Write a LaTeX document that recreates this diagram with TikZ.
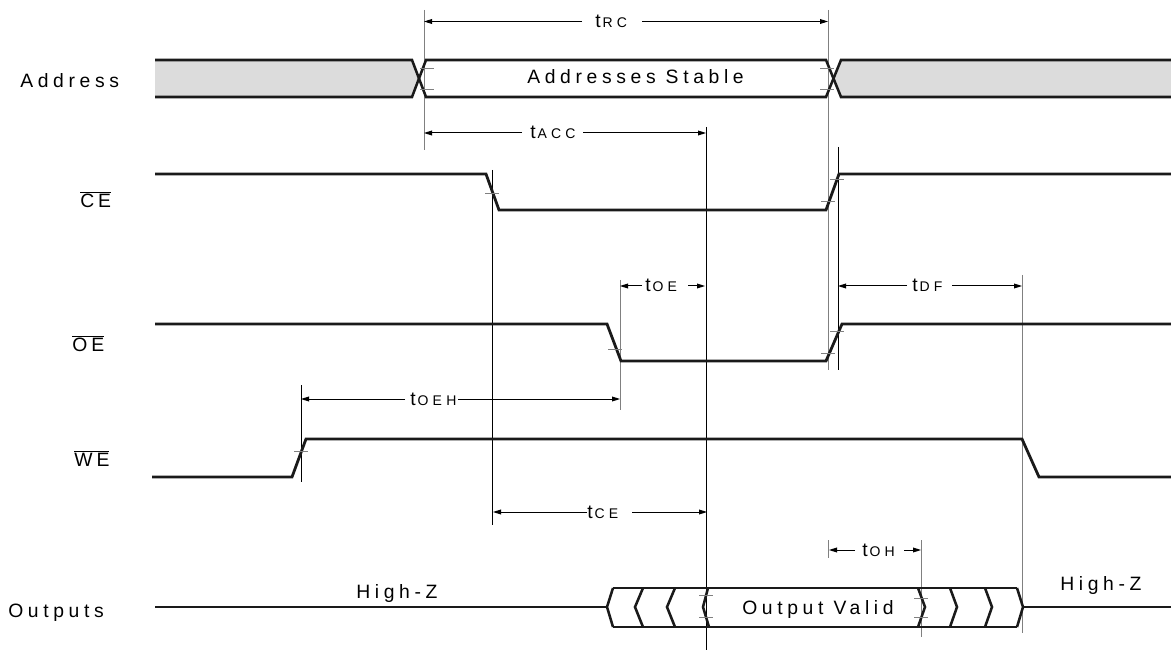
\documentclass[tikz,border=0pt]{standalone}
\usepackage{fontspec}
\setmainfont{Liberation Sans}
\newfontfamily\spaced[LetterSpace=24]{Liberation Sans}
\newfontfamily\subsp[LetterSpace=30]{Liberation Sans}
\usetikzlibrary{arrows.meta}
\definecolor{busgray}{HTML}{DCDCDC}
\definecolor{sigcol}{HTML}{1A1A1A}
\definecolor{refgray}{HTML}{808080}
\newcommand\tlab[1]{{\fontsize{14.5}{16}\selectfont t}\kern1.5pt{\subsp\fontsize{10.5}{12}\selectfont #1}}
\newcommand\bigtxt{\spaced\fontsize{14.5}{16}\selectfont}
\tikzset{
  sig/.style={line width=2.1pt, draw=sigcol, line join=miter},
  bus/.style={line width=1.9pt, draw=sigcol, line join=miter},
  refl/.style={line width=0.75pt, draw=black},
  refg/.style={line width=0.75pt, draw=refgray},
  tickm/.style={line width=0.6pt, draw=refgray},
  dim/.style={line width=0.75pt, draw=black, -{Triangle[length=6pt,width=3.6pt]}},
  lbl/.style={inner sep=0pt, anchor=base west},
}
\begin{document}
\begin{tikzpicture}[x=0.75pt,y=-0.75pt]
\useasboundingbox (0,0) rectangle (1171,652);
% reference verticals
\draw[refg] (424,10) -- (424,150);
\draw[refg] (828,10) -- (828,370);
\draw[refl] (838,147) -- (838,370);
\draw[refl] (492,170) -- (492,525);
\draw[refl] (706,127) -- (706,650);
\draw[refg] (620,280) -- (620,410);
\draw[refl] (301,385) -- (301,482);
\draw[refg] (1022,275) -- (1022,633);
\draw[refg] (828,540) -- (828,558);
\draw[refg] (921,540) -- (921,637);

% Address bus
\fill[busgray] (155,60) -- (412,60) -- (419,78.5) -- (412,97) -- (155,97) -- cycle;
\fill[busgray] (1171,60) -- (841,60) -- (833.5,78.5) -- (841,97) -- (1171,97) -- cycle;
\draw[bus] (155,60) -- (412,60) -- (426,97) -- (826,97) -- (841,60) -- (1171,60);
\draw[bus] (155,97) -- (412,97) -- (426,60) -- (826,60) -- (841,97) -- (1171,97);

% CE
\draw[sig] (155,174) -- (486,174) -- (499,210) -- (826,210) -- (839,174) -- (1171,174);
% OE
\draw[sig] (155,324) -- (607,324) -- (621,361) -- (826,361) -- (842,324) -- (1171,324);
% WE
\draw[sig] (152,477) -- (292,477) -- (306,439) -- (1022,439) -- (1039,477) -- (1171,477);

% Outputs
\draw[bus] (155,607) -- (607,607);
\draw[bus] (1023,607) -- (1171,607);
\draw[bus] (613,588) -- (1017,588);
\draw[bus] (613,627) -- (1017,627);
\draw[bus] (613,588) -- (607,607) -- (613,627);
\draw[bus] (643,588) -- (635,607) -- (643,627);
\draw[bus] (675,588) -- (667,607) -- (675,627);
\draw[bus] (708,588) -- (703,607) -- (709,627);
\draw[bus] (918,588) -- (925,607) -- (918,627);
\draw[bus] (950,588) -- (957,607) -- (950,627);
\draw[bus] (985,588) -- (992,607) -- (985,627);
\draw[bus] (1017,588) -- (1023,607) -- (1017,627);

% ticks
\foreach \x/\y in {427/68, 427/89, 827/68, 827/89, 492/193, 837/179, 828/201,
  615/349, 837/331, 828/353, 301/451, 706/595, 706/617, 921/598, 921/617}
  \draw[tickm] ({\x-7},\y) -- ({\x+7},\y);

% timing arrows
\draw[dim] (582,21.5) -- (424,21.5);
\draw[dim] (642,21.5) -- (828,21.5);
\draw[dim] (522,133) -- (424,133);
\draw[dim] (583,133) -- (706,133);
\draw[dim] (642,286) -- (620,286);
\draw[dim] (688,286) -- (705,286);
\draw[dim] (907,286) -- (838,286);
\draw[dim] (952,286) -- (1022,286);
\draw[dim] (405,399) -- (301,399);
\draw[dim] (458,399) -- (620,399);
\draw[dim] (587,512) -- (493,512);
\draw[dim] (632,512) -- (707,512);
\draw[dim] (855,550) -- (829,550);
\draw[dim] (904,550) -- (921,550);

% timing labels
\node[lbl] (trc) at (595,27.5) {\tlab{RC}};
\node[lbl] (tacc) at (530,139) {\tlab{ACC}};
\node[lbl] (toe) at (645,292) {\tlab{OE}};
\node[lbl] (tdf) at (912,292) {\tlab{DF}};
\node[lbl] (toeh) at (410,405) {\tlab{OEH}};
\node[lbl] (tce) at (587,518) {\tlab{CE}};
\node[lbl] (toh) at (862,556) {\tlab{OH}};

% signal names
\node[lbl] (naddr) at (20,88) {\bigtxt Address};
\node[lbl] (nce) at (80,208) {\bigtxt $\overline{\mbox{C\kern3pt E}}$};
\node[lbl] (noe) at (72,352) {\bigtxt $\overline{\mbox{O\kern3pt E}}$};
\node[lbl] (nwe) at (74,466) {\bigtxt $\overline{\mbox{W\kern3pt E}}$};
\node[lbl] (nout) at (8,617) {\bigtxt Outputs};
\node[lbl] (stable) at (527,84) {\bigtxt Addresses Stable};
\node[lbl] (hz1) at (356,598) {\bigtxt High-Z};
\node[lbl] (hz2) at (1060,590) {\bigtxt High-Z};
\node[lbl] (valid) at (742,614) {\bigtxt Output Valid};
\end{tikzpicture}
\end{document}
